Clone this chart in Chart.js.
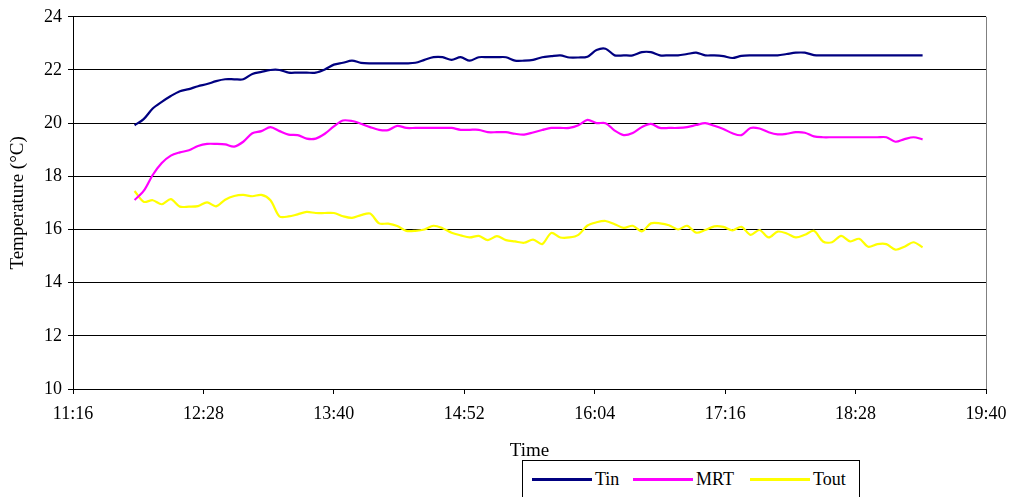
<!DOCTYPE html>
<html>
<head>
<meta charset="utf-8">
<script src="https://cdn.jsdelivr.net/npm/chart.js@4/dist/chart.umd.min.js"></script>
<style>
  html, body { margin: 0; padding: 0; background: #fff; }
  #wrap { position: relative; width: 1018px; height: 497px; overflow: hidden; }
  #legend {
    position: absolute; left: 522px; top: 460px; width: 338px; height: 40px;
    border: 1px solid #000; box-sizing: border-box; background: #fff;
    font-family: "Liberation Serif", "Times New Roman", serif; font-size: 18px; color: #000;
  }
  .item { position: absolute; top: 7px; height: 22px; line-height: 22px; white-space: nowrap; }
  .swatch { display: inline-block; width: 60px; height: 3px; vertical-align: middle; margin-right: 3px; position: relative; top: -1px; }
</style>
</head>
<body>
<div id="wrap">
  <canvas id="chart" width="1018" height="497"></canvas>
  <div id="legend">
    <div class="item" style="left:9px"><span class="swatch" style="background:#000080"></span>Tin</div>
    <div class="item" style="left:110px"><span class="swatch" style="background:#FF00FF"></span>MRT</div>
    <div class="item" style="left:227px"><span class="swatch" style="background:#FFFF00"></span>Tout</div>
  </div>
</div>
<script>
// Logging times (5-minute readings)
const times = [
  "11:50","11:55",
  "12:00","12:05","12:10","12:15","12:20","12:25","12:30","12:35","12:40","12:45","12:50","12:55",
  "13:00","13:05","13:10","13:15","13:20","13:25","13:30","13:35","13:40","13:45","13:50","13:55",
  "14:00","14:05","14:10","14:15","14:20","14:25","14:30","14:35","14:40","14:45","14:50","14:55",
  "15:00","15:05","15:10","15:15","15:20","15:25","15:30","15:35","15:40","15:45","15:50","15:55",
  "16:00","16:05","16:10","16:15","16:20","16:25","16:30","16:35","16:40","16:45","16:50","16:55",
  "17:00","17:05","17:10","17:15","17:20","17:25","17:30","17:35","17:40","17:45","17:50","17:55",
  "18:00","18:05","18:10","18:15","18:20","18:25","18:30","18:35","18:40","18:45","18:50","18:55",
  "19:00","19:05"
];

// Indoor air temperature (°C)
const tin = [
  19.92,20.15,20.55,20.80,21.02,21.20,21.28,21.39,21.47,21.58,21.65,21.65,21.65,21.85,
  21.93,22.00,22.00,21.90,21.90,21.90,21.90,22.02,22.20,22.27,22.35,22.27,
  22.25,22.25,22.25,22.25,22.25,22.27,22.38,22.48,22.48,22.38,22.48,22.35,
  22.48,22.48,22.48,22.48,22.35,22.35,22.38,22.48,22.52,22.55,22.47,22.47,
  22.50,22.75,22.80,22.55,22.55,22.55,22.67,22.67,22.55,22.55,22.55,22.60,
  22.65,22.55,22.55,22.52,22.45,22.53,22.55,22.55,22.55,22.55,22.60,22.65,
  22.65,22.56,22.55,22.55,22.55,22.55,22.55,22.55,22.55,22.55,22.55,22.55,
  22.55,22.55
];

// Mean radiant temperature (°C)
const mrt = [
  17.11,17.45,18.05,18.50,18.78,18.90,18.98,19.14,19.22,19.22,19.20,19.12,19.30,19.62,
  19.70,19.85,19.70,19.57,19.55,19.42,19.42,19.60,19.88,20.10,20.08,19.98,
  19.85,19.75,19.74,19.90,19.82,19.82,19.82,19.82,19.82,19.82,19.75,19.75,
  19.75,19.66,19.66,19.66,19.60,19.57,19.65,19.74,19.82,19.82,19.82,19.92,
  20.12,20.00,20.00,19.72,19.55,19.63,19.85,19.97,19.82,19.82,19.82,19.85,
  19.93,20.00,19.90,19.78,19.62,19.55,19.82,19.80,19.66,19.58,19.60,19.66,
  19.64,19.50,19.47,19.47,19.47,19.47,19.47,19.47,19.47,19.47,19.30,19.40,
  19.47,19.39
];

// Outdoor air temperature (°C)
const tout = [
  17.45,17.04,17.10,16.95,17.14,16.86,16.86,16.88,17.02,16.87,17.12,17.26,17.30,17.25,
  17.30,17.10,16.49,16.49,16.57,16.66,16.62,16.62,16.62,16.50,16.44,16.54,
  16.60,16.23,16.22,16.13,15.95,15.95,16.00,16.14,16.05,15.88,15.78,15.70,
  15.76,15.60,15.75,15.60,15.55,15.50,15.62,15.45,15.87,15.70,15.70,15.80,
  16.15,16.27,16.32,16.20,16.06,16.14,15.93,16.23,16.23,16.16,16.00,16.14,
  15.88,15.98,16.12,16.10,15.97,16.10,15.80,15.98,15.70,15.92,15.85,15.70,
  15.80,15.95,15.55,15.52,15.76,15.55,15.65,15.35,15.45,15.45,15.24,15.35,
  15.52,15.33
];

// Axis tick positions in minutes after midnight (11:16 ... 19:40)
const xTicks = [676, 748, 820, 892, 964, 1036, 1108, 1180];
const yTicks = [10, 12, 14, 16, 18, 20, 22, 24];

const toMin = s => { const [h, m] = s.split(":").map(Number); return h * 60 + m; };
const fmt = v => { const h = Math.floor(v / 60), m = Math.round(v % 60); return h + ":" + String(m).padStart(2, "0"); };
const pts = arr => arr.map((y, i) => ({ x: toMin(times[i]), y }));

const serif = "'Liberation Serif', 'Times New Roman', serif";

// Gray frame around the plot area (right edge)
const frame = {
  id: "frame",
  afterDraw(chart) {
    const { ctx, chartArea: a } = chart;
    ctx.save();
    ctx.strokeStyle = "#808080";
    ctx.lineWidth = 1;
    ctx.beginPath();
    ctx.moveTo(Math.round(a.right) + 0.5, a.top);
    ctx.lineTo(Math.round(a.right) + 0.5, a.bottom);
    ctx.stroke();
    ctx.restore();
  }
};

new Chart(document.getElementById("chart"), {
  type: "line",
  data: {
    datasets: [
      { label: "Tin",  data: pts(tin),  borderColor: "#000080", borderWidth: 2.2 },
      { label: "MRT",  data: pts(mrt),  borderColor: "#FF00FF", borderWidth: 2.2 },
      { label: "Tout", data: pts(tout), borderColor: "#FFFF00", borderWidth: 2.2 }
    ]
  },
  options: {
    responsive: false,
    animation: false,
    parsing: true,
    elements: { point: { radius: 0 }, line: { tension: 0.3 } },
    layout: { padding: { left: 0, right: 32, top: 15, bottom: 0 } },
    plugins: { legend: { display: false }, tooltip: { enabled: false } },
    scales: {
      x: {
        type: "linear",
        min: 676, max: 1180,
        afterBuildTicks(scale) { scale.ticks = xTicks.map(v => ({ value: v })); },
        afterFit(scale) { scale.height = 108; },
        ticks: { callback: v => fmt(v), color: "#000", font: { family: serif, size: 18 }, padding: 9, maxRotation: 0, autoSkip: false },
        grid: { drawOnChartArea: false, drawTicks: true, tickLength: 5, tickColor: "#000" },
        border: { color: "#000", width: 1 },
        title: { display: true, text: "Time", color: "#000", font: { family: serif, size: 19 }, padding: { top: 0, bottom: 35 } }
      },
      y: {
        min: 10, max: 24,
        afterBuildTicks(scale) { scale.ticks = yTicks.map(v => ({ value: v })); },
        afterFit(scale) { scale.width = 73; },
        ticks: { color: "#000", font: { family: serif, size: 18 }, padding: 6 },
        grid: { color: "#000", lineWidth: 1, drawTicks: true, tickLength: 5, tickColor: "#000" },
        border: { color: "#000", width: 1 },
        title: { display: true, text: "Temperature (°C)", color: "#000", font: { family: serif, size: 19 }, padding: { top: 7, bottom: 0 } }
      }
    }
  },
  plugins: [frame]
});
</script>
</body>
</html>
